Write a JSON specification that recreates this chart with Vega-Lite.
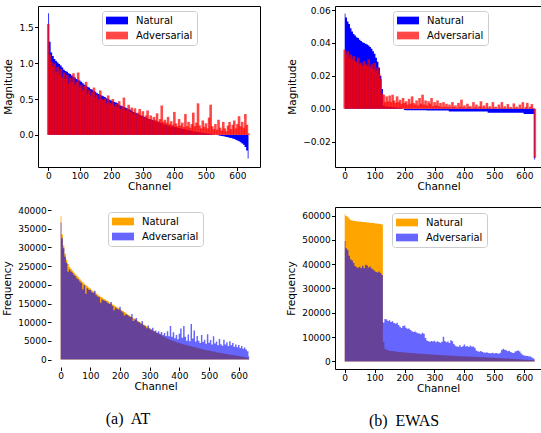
{
"$schema": "https://vega.github.io/schema/vega-lite/v6.json",
"background": "white",
"padding": {"left": 2, "top": 5, "right": 0, "bottom": 0},
"config": {
 "view": {"stroke": "#000", "strokeWidth": 1},
 "axis": {"labelFont": "DejaVu Sans", "labelFontSize": 9, "labelColor": "#000", "titleFont": "DejaVu Sans", "titleFontSize": 10.5, "titleFontWeight": "normal", "titleColor": "#000", "tickColor": "#000", "tickSize": 3.5, "grid": false, "domain": false, "labelOverlap": false, "labelFlush": false},
 "axisX": {"labelPadding": 0.5, "titlePadding": 1},
 "axisY": {"labelPadding": 1.2, "titlePadding": 5},
 "legend": {"labelFont": "DejaVu Sans", "labelFontSize": 10, "labelColor": "#000", "symbolStrokeWidth": 0, "labelOffset": 19, "padding": 4, "rowPadding": 4, "strokeColor": "#cccccc", "fillColor": "rgba(255,255,255,0.8)", "cornerRadius": 3, "title": null, "orient": "none", "symbolType": "M-1,-0.7H3V0.7H-1Z", "symbolSize": 121}
},
"datasets": {
"p1": [
{"c":0,"Natural":1.7,"Adversarial":1.55},{"c":5,"Natural":1.3,"Adversarial":1.12},{"c":10,"Natural":1.15,"Adversarial":1.02},{"c":15,"Natural":1.1,"Adversarial":0.96},{"c":20,"Natural":1.06,"Adversarial":1.0},{"c":25,"Natural":1.03,"Adversarial":0.88},{"c":30,"Natural":1.01,"Adversarial":0.95},{"c":35,"Natural":0.99,"Adversarial":0.84},{"c":40,"Natural":0.97,"Adversarial":0.92},{"c":45,"Natural":0.94,"Adversarial":0.8},
{"c":50,"Natural":0.91,"Adversarial":0.87},{"c":55,"Natural":0.89,"Adversarial":0.78},{"c":60,"Natural":0.88,"Adversarial":0.84},{"c":65,"Natural":0.86,"Adversarial":0.72},{"c":70,"Natural":0.85,"Adversarial":0.8},{"c":75,"Natural":0.83,"Adversarial":0.74},{"c":80,"Natural":0.81,"Adversarial":0.86},{"c":85,"Natural":0.8,"Adversarial":0.7},{"c":90,"Natural":0.78,"Adversarial":0.74},{"c":95,"Natural":0.77,"Adversarial":0.87},
{"c":100,"Natural":0.76,"Adversarial":0.66},{"c":105,"Natural":0.74,"Adversarial":0.7},{"c":110,"Natural":0.72,"Adversarial":0.62},{"c":115,"Natural":0.7,"Adversarial":0.68},{"c":120,"Natural":0.69,"Adversarial":0.74},{"c":125,"Natural":0.67,"Adversarial":0.58},{"c":130,"Natural":0.66,"Adversarial":0.63},{"c":135,"Natural":0.64,"Adversarial":0.55},{"c":140,"Natural":0.63,"Adversarial":0.6},{"c":145,"Natural":0.61,"Adversarial":0.66},
{"c":150,"Natural":0.6,"Adversarial":0.52},{"c":155,"Natural":0.58,"Adversarial":0.56},{"c":160,"Natural":0.57,"Adversarial":0.49},{"c":165,"Natural":0.56,"Adversarial":0.62},{"c":170,"Natural":0.55,"Adversarial":0.5},{"c":175,"Natural":0.54,"Adversarial":0.48},{"c":180,"Natural":0.53,"Adversarial":0.51},{"c":185,"Natural":0.51,"Adversarial":0.44},{"c":190,"Natural":0.5,"Adversarial":0.55},{"c":195,"Natural":0.49,"Adversarial":0.45},
{"c":200,"Natural":0.48,"Adversarial":0.42},{"c":205,"Natural":0.47,"Adversarial":0.5},{"c":210,"Natural":0.46,"Adversarial":0.4},{"c":215,"Natural":0.45,"Adversarial":0.43},{"c":220,"Natural":0.44,"Adversarial":0.38},{"c":225,"Natural":0.42,"Adversarial":0.47},{"c":230,"Natural":0.41,"Adversarial":0.36},{"c":235,"Natural":0.4,"Adversarial":0.39},{"c":240,"Natural":0.39,"Adversarial":0.52},{"c":245,"Natural":0.38,"Adversarial":0.34},
{"c":250,"Natural":0.37,"Adversarial":0.36},{"c":255,"Natural":0.36,"Adversarial":0.42},{"c":260,"Natural":0.35,"Adversarial":0.32},{"c":265,"Natural":0.34,"Adversarial":0.38},{"c":270,"Natural":0.32,"Adversarial":0.3},{"c":275,"Natural":0.31,"Adversarial":0.37},{"c":280,"Natural":0.3,"Adversarial":0.28},{"c":285,"Natural":0.29,"Adversarial":0.31},{"c":290,"Natural":0.28,"Adversarial":0.36},{"c":295,"Natural":0.27,"Adversarial":0.25},
{"c":300,"Natural":0.26,"Adversarial":0.33},{"c":305,"Natural":0.25,"Adversarial":0.24},{"c":310,"Natural":0.24,"Adversarial":0.27},{"c":315,"Natural":0.23,"Adversarial":0.34},{"c":320,"Natural":0.22,"Adversarial":0.22},{"c":325,"Natural":0.215,"Adversarial":0.27},{"c":330,"Natural":0.21,"Adversarial":0.2},{"c":335,"Natural":0.2,"Adversarial":0.25},{"c":340,"Natural":0.19,"Adversarial":0.21},{"c":345,"Natural":0.18,"Adversarial":0.3},
{"c":350,"Natural":0.175,"Adversarial":0.19},{"c":355,"Natural":0.17,"Adversarial":0.22},{"c":360,"Natural":0.16,"Adversarial":0.41},{"c":365,"Natural":0.15,"Adversarial":0.18},{"c":370,"Natural":0.145,"Adversarial":0.21},{"c":375,"Natural":0.14,"Adversarial":0.17},{"c":380,"Natural":0.13,"Adversarial":0.25},{"c":385,"Natural":0.125,"Adversarial":0.15},{"c":390,"Natural":0.12,"Adversarial":0.19},{"c":395,"Natural":0.115,"Adversarial":0.14},
{"c":400,"Natural":0.11,"Adversarial":0.32},{"c":405,"Natural":0.105,"Adversarial":0.16},{"c":410,"Natural":0.1,"Adversarial":0.12},{"c":415,"Natural":0.095,"Adversarial":0.22},{"c":420,"Natural":0.09,"Adversarial":0.13},{"c":425,"Natural":0.085,"Adversarial":0.17},{"c":430,"Natural":0.08,"Adversarial":0.11},{"c":435,"Natural":0.075,"Adversarial":0.29},{"c":440,"Natural":0.07,"Adversarial":0.12},{"c":445,"Natural":0.065,"Adversarial":0.18},
{"c":450,"Natural":0.06,"Adversarial":0.1},{"c":455,"Natural":0.055,"Adversarial":0.15},{"c":460,"Natural":0.05,"Adversarial":0.31},{"c":465,"Natural":0.047,"Adversarial":0.12},{"c":470,"Natural":0.043,"Adversarial":0.17},{"c":475,"Natural":0.04,"Adversarial":0.44},{"c":480,"Natural":0.035,"Adversarial":0.13},{"c":485,"Natural":0.032,"Adversarial":0.09},{"c":490,"Natural":0.028,"Adversarial":0.2},{"c":495,"Natural":0.025,"Adversarial":0.11},
{"c":500,"Natural":0.02,"Adversarial":0.16},{"c":505,"Natural":0.017,"Adversarial":0.09},{"c":510,"Natural":0.014,"Adversarial":0.24},{"c":515,"Natural":0.01,"Adversarial":0.42},{"c":520,"Natural":0.007,"Adversarial":0.12},{"c":525,"Natural":0.004,"Adversarial":0.08},{"c":530,"Natural":0.0,"Adversarial":0.15},{"c":535,"Natural":-0.004,"Adversarial":0.07},{"c":540,"Natural":-0.008,"Adversarial":0.21},{"c":545,"Natural":-0.012,"Adversarial":0.1},
{"c":550,"Natural":-0.016,"Adversarial":0.06},{"c":555,"Natural":-0.02,"Adversarial":0.18},{"c":560,"Natural":-0.025,"Adversarial":0.09},{"c":565,"Natural":-0.03,"Adversarial":0.05},{"c":570,"Natural":-0.035,"Adversarial":0.13},{"c":575,"Natural":-0.04,"Adversarial":0.18},{"c":580,"Natural":-0.046,"Adversarial":0.08},{"c":585,"Natural":-0.053,"Adversarial":0.14},{"c":590,"Natural":-0.06,"Adversarial":0.2},{"c":595,"Natural":-0.07,"Adversarial":0.09},
{"c":600,"Natural":-0.08,"Adversarial":0.15},{"c":605,"Natural":-0.09,"Adversarial":0.26},{"c":610,"Natural":-0.105,"Adversarial":0.12},{"c":615,"Natural":-0.12,"Adversarial":0.18},{"c":620,"Natural":-0.14,"Adversarial":0.1},{"c":625,"Natural":-0.17,"Adversarial":0.29},{"c":630,"Natural":-0.22,"Adversarial":0.14},{"c":635,"Natural":-0.33,"Adversarial":0.02}
],
"p2": [
{"c":0,"Natural":0.058,"Adversarial":0.036},{"c":5,"Natural":0.0555,"Adversarial":0.033},{"c":10,"Natural":0.053,"Adversarial":0.035},{"c":15,"Natural":0.0515,"Adversarial":0.031},{"c":20,"Natural":0.049,"Adversarial":0.033},{"c":25,"Natural":0.047,"Adversarial":0.03},{"c":30,"Natural":0.0455,"Adversarial":0.032},{"c":35,"Natural":0.0445,"Adversarial":0.029},{"c":40,"Natural":0.0435,"Adversarial":0.028},{"c":45,"Natural":0.043,"Adversarial":0.031},
{"c":50,"Natural":0.042,"Adversarial":0.027},{"c":55,"Natural":0.0412,"Adversarial":0.028},{"c":60,"Natural":0.0405,"Adversarial":0.026},{"c":65,"Natural":0.04,"Adversarial":0.029},{"c":70,"Natural":0.0395,"Adversarial":0.027},{"c":75,"Natural":0.039,"Adversarial":0.026},{"c":80,"Natural":0.0385,"Adversarial":0.03},{"c":85,"Natural":0.0375,"Adversarial":0.025},{"c":90,"Natural":0.0365,"Adversarial":0.027},{"c":95,"Natural":0.035,"Adversarial":0.024},
{"c":100,"Natural":0.0335,"Adversarial":0.028},{"c":105,"Natural":0.031,"Adversarial":0.023},{"c":110,"Natural":0.0285,"Adversarial":0.025},{"c":115,"Natural":0.025,"Adversarial":0.021},{"c":120,"Natural":0.02,"Adversarial":0.018},{"c":125,"Natural":0.012,"Adversarial":0.009},{"c":130,"Natural":0.0018,"Adversarial":0.0085},{"c":135,"Natural":0.0015,"Adversarial":0.004},{"c":140,"Natural":0.0013,"Adversarial":0.0075},{"c":145,"Natural":0.0012,"Adversarial":0.0045},
{"c":150,"Natural":0.0011,"Adversarial":0.008},{"c":155,"Natural":0.001,"Adversarial":0.004},{"c":160,"Natural":0.0009,"Adversarial":0.0085},{"c":165,"Natural":0.0008,"Adversarial":0.005},{"c":170,"Natural":0.0007,"Adversarial":0.0035},{"c":175,"Natural":0.0006,"Adversarial":0.0075},{"c":180,"Natural":0.0005,"Adversarial":0.004},{"c":185,"Natural":0.0004,"Adversarial":0.0055},{"c":190,"Natural":0.0002,"Adversarial":0.003},{"c":195,"Natural":0.0,"Adversarial":0.0065},
{"c":200,"Natural":-0.0008,"Adversarial":0.0035},{"c":205,"Natural":-0.0009,"Adversarial":0.0045},{"c":210,"Natural":-0.0009,"Adversarial":0.0025},{"c":215,"Natural":-0.0009,"Adversarial":0.006},{"c":220,"Natural":-0.0009,"Adversarial":0.003},{"c":225,"Natural":-0.0009,"Adversarial":0.0075},{"c":230,"Natural":-0.0009,"Adversarial":0.0035},{"c":235,"Natural":-0.0009,"Adversarial":0.0025},{"c":240,"Natural":-0.0009,"Adversarial":0.005},{"c":245,"Natural":-0.0009,"Adversarial":0.002},
{"c":250,"Natural":-0.0009,"Adversarial":0.0065},{"c":255,"Natural":-0.0009,"Adversarial":0.003},{"c":260,"Natural":-0.0009,"Adversarial":0.0085},{"c":265,"Natural":-0.0009,"Adversarial":0.0025},{"c":270,"Natural":-0.0009,"Adversarial":0.005},{"c":275,"Natural":-0.0011,"Adversarial":0.002},{"c":280,"Natural":-0.0011,"Adversarial":0.0045},{"c":285,"Natural":-0.0011,"Adversarial":0.003},{"c":290,"Natural":-0.0011,"Adversarial":0.0065},{"c":295,"Natural":-0.0011,"Adversarial":0.0015},
{"c":300,"Natural":-0.0011,"Adversarial":0.004},{"c":305,"Natural":-0.0011,"Adversarial":0.002},{"c":310,"Natural":-0.0011,"Adversarial":0.005},{"c":315,"Natural":-0.0011,"Adversarial":0.0015},{"c":320,"Natural":-0.0011,"Adversarial":0.0035},{"c":325,"Natural":-0.0011,"Adversarial":0.001},{"c":330,"Natural":-0.0011,"Adversarial":0.004},{"c":335,"Natural":-0.0011,"Adversarial":0.0012},{"c":340,"Natural":-0.0011,"Adversarial":0.003},{"c":345,"Natural":-0.0011,"Adversarial":0.001},
{"c":350,"Natural":-0.0017,"Adversarial":0.0025},{"c":355,"Natural":-0.0017,"Adversarial":0.0008},{"c":360,"Natural":-0.0017,"Adversarial":0.004},{"c":365,"Natural":-0.0017,"Adversarial":0.001},{"c":370,"Natural":-0.0017,"Adversarial":0.002},{"c":375,"Natural":-0.0017,"Adversarial":0.0005},{"c":380,"Natural":-0.0017,"Adversarial":0.0035},{"c":385,"Natural":-0.0017,"Adversarial":0.001},{"c":390,"Natural":-0.0017,"Adversarial":0.0055},{"c":395,"Natural":-0.0017,"Adversarial":0.0008},
{"c":400,"Natural":-0.0017,"Adversarial":0.002},{"c":405,"Natural":-0.0017,"Adversarial":0.0005},{"c":410,"Natural":-0.0017,"Adversarial":0.003},{"c":415,"Natural":-0.0017,"Adversarial":0.001},{"c":420,"Natural":-0.0017,"Adversarial":0.0015},{"c":425,"Natural":-0.0017,"Adversarial":0.0004},{"c":430,"Natural":-0.0017,"Adversarial":0.004},{"c":435,"Natural":-0.0017,"Adversarial":0.0008},{"c":440,"Natural":-0.0017,"Adversarial":0.0025},{"c":445,"Natural":-0.0017,"Adversarial":0.0005},
{"c":450,"Natural":-0.0017,"Adversarial":0.0015},{"c":455,"Natural":-0.0017,"Adversarial":0.0045},{"c":460,"Natural":-0.0017,"Adversarial":0.0008},{"c":465,"Natural":-0.0017,"Adversarial":0.002},{"c":470,"Natural":-0.0017,"Adversarial":0.0005},{"c":475,"Natural":-0.0017,"Adversarial":0.0035},{"c":480,"Natural":-0.0025,"Adversarial":0.0006},{"c":485,"Natural":-0.0025,"Adversarial":0.0015},{"c":490,"Natural":-0.0025,"Adversarial":0.0003},{"c":495,"Natural":-0.0025,"Adversarial":0.004},
{"c":500,"Natural":-0.0025,"Adversarial":0.0007},{"c":505,"Natural":-0.0025,"Adversarial":0.0012},{"c":510,"Natural":-0.0025,"Adversarial":0.0002},{"c":515,"Natural":-0.0025,"Adversarial":0.0025},{"c":520,"Natural":-0.0025,"Adversarial":0.0006},{"c":525,"Natural":-0.0025,"Adversarial":0.004},{"c":530,"Natural":-0.0025,"Adversarial":0.0004},{"c":535,"Natural":-0.0025,"Adversarial":0.0015},{"c":540,"Natural":-0.0025,"Adversarial":0.0003},{"c":545,"Natural":-0.0025,"Adversarial":0.0028},
{"c":550,"Natural":-0.0025,"Adversarial":0.0005},{"c":555,"Natural":-0.0025,"Adversarial":0.001},{"c":560,"Natural":-0.0025,"Adversarial":0.0002},{"c":565,"Natural":-0.0025,"Adversarial":0.0032},{"c":570,"Natural":-0.0025,"Adversarial":0.0005},{"c":575,"Natural":-0.0025,"Adversarial":0.0012},{"c":580,"Natural":-0.0025,"Adversarial":0.0003},{"c":585,"Natural":-0.0025,"Adversarial":0.0025},{"c":590,"Natural":-0.0025,"Adversarial":0.0004},{"c":595,"Natural":-0.0025,"Adversarial":0.004},
{"c":600,"Natural":-0.0033,"Adversarial":0.0002},{"c":605,"Natural":-0.0033,"Adversarial":0.001},{"c":610,"Natural":-0.0033,"Adversarial":0.0035},{"c":615,"Natural":-0.0033,"Adversarial":0.0003},{"c":620,"Natural":-0.0033,"Adversarial":0.0012},{"c":625,"Natural":-0.0033,"Adversarial":0.0028},{"c":630,"Natural":-0.0033,"Adversarial":0.0004},{"c":635,"Natural":-0.031,"Adversarial":-0.03}
],
"p3": [
{"c":0,"Natural":38500,"Adversarial":36700},{"c":5,"Natural":33500,"Adversarial":32500},{"c":10,"Natural":30500,"Adversarial":29800},{"c":15,"Natural":28300,"Adversarial":27500},{"c":20,"Natural":26700,"Adversarial":25900},{"c":25,"Natural":25600,"Adversarial":23500},{"c":30,"Natural":24800,"Adversarial":24100},{"c":35,"Natural":24300,"Adversarial":23600},{"c":40,"Natural":23800,"Adversarial":23200},{"c":45,"Natural":23300,"Adversarial":22600},
{"c":50,"Natural":22800,"Adversarial":22300},{"c":55,"Natural":22400,"Adversarial":21700},{"c":60,"Natural":22000,"Adversarial":21400},{"c":65,"Natural":21500,"Adversarial":20900},{"c":70,"Natural":21100,"Adversarial":20500},{"c":75,"Natural":20700,"Adversarial":18800},{"c":80,"Natural":20300,"Adversarial":19900},{"c":85,"Natural":19900,"Adversarial":17600},{"c":90,"Natural":19600,"Adversarial":19100},{"c":95,"Natural":19300,"Adversarial":18700},
{"c":100,"Natural":19000,"Adversarial":18600},{"c":105,"Natural":18600,"Adversarial":18100},{"c":110,"Natural":18300,"Adversarial":17800},{"c":115,"Natural":18000,"Adversarial":18400},{"c":120,"Natural":17700,"Adversarial":17200},{"c":125,"Natural":17400,"Adversarial":16900},{"c":130,"Natural":17100,"Adversarial":16700},{"c":135,"Natural":16800,"Adversarial":15200},{"c":140,"Natural":16600,"Adversarial":16100},{"c":145,"Natural":16300,"Adversarial":15900},
{"c":150,"Natural":16100,"Adversarial":15700},{"c":155,"Natural":15800,"Adversarial":15500},{"c":160,"Natural":15600,"Adversarial":15100},{"c":165,"Natural":15300,"Adversarial":14900},{"c":170,"Natural":15000,"Adversarial":15400},{"c":175,"Natural":14700,"Adversarial":14300},{"c":180,"Natural":14500,"Adversarial":13200},{"c":185,"Natural":14200,"Adversarial":13900},{"c":190,"Natural":14000,"Adversarial":13600},{"c":195,"Natural":13700,"Adversarial":13400},
{"c":200,"Natural":13500,"Adversarial":14100},{"c":205,"Natural":13200,"Adversarial":12900},{"c":210,"Natural":13000,"Adversarial":12600},{"c":215,"Natural":12700,"Adversarial":11800},{"c":220,"Natural":12400,"Adversarial":12100},{"c":225,"Natural":12100,"Adversarial":11900},{"c":230,"Natural":11900,"Adversarial":11600},{"c":235,"Natural":11600,"Adversarial":11400},{"c":240,"Natural":11400,"Adversarial":12200},{"c":245,"Natural":11100,"Adversarial":10300},
{"c":250,"Natural":10900,"Adversarial":10700},{"c":255,"Natural":10600,"Adversarial":11100},{"c":260,"Natural":10400,"Adversarial":10100},{"c":265,"Natural":10100,"Adversarial":10000},{"c":270,"Natural":9900,"Adversarial":9600},{"c":275,"Natural":9600,"Adversarial":10300},{"c":280,"Natural":9400,"Adversarial":9200},{"c":285,"Natural":9100,"Adversarial":8900},{"c":290,"Natural":8900,"Adversarial":8400},{"c":295,"Natural":8600,"Adversarial":9100},
{"c":300,"Natural":8400,"Adversarial":8300},{"c":305,"Natural":8100,"Adversarial":8000},{"c":310,"Natural":7900,"Adversarial":8500},{"c":315,"Natural":7600,"Adversarial":7600},{"c":320,"Natural":7400,"Adversarial":7800},{"c":325,"Natural":7100,"Adversarial":7200},{"c":330,"Natural":6900,"Adversarial":7600},{"c":335,"Natural":6700,"Adversarial":6900},{"c":340,"Natural":6450,"Adversarial":7400},{"c":345,"Natural":6200,"Adversarial":6600},
{"c":350,"Natural":6000,"Adversarial":7100},{"c":355,"Natural":5800,"Adversarial":6300},{"c":360,"Natural":5600,"Adversarial":7600},{"c":365,"Natural":5400,"Adversarial":6200},{"c":370,"Natural":5250,"Adversarial":9000},{"c":375,"Natural":5100,"Adversarial":6100},{"c":380,"Natural":4950,"Adversarial":7300},{"c":385,"Natural":4800,"Adversarial":5700},{"c":390,"Natural":4650,"Adversarial":6600},{"c":395,"Natural":4500,"Adversarial":5400},
{"c":400,"Natural":4400,"Adversarial":6900},{"c":405,"Natural":4300,"Adversarial":8300},{"c":410,"Natural":4150,"Adversarial":5800},{"c":415,"Natural":4050,"Adversarial":9000},{"c":420,"Natural":3950,"Adversarial":6100},{"c":425,"Natural":3850,"Adversarial":5000},{"c":430,"Natural":3750,"Adversarial":6700},{"c":435,"Natural":3650,"Adversarial":4900},{"c":440,"Natural":3550,"Adversarial":9500},{"c":445,"Natural":3450,"Adversarial":5600},
{"c":450,"Natural":3350,"Adversarial":7800},{"c":455,"Natural":3250,"Adversarial":4800},{"c":460,"Natural":3150,"Adversarial":6300},{"c":465,"Natural":3050,"Adversarial":5000},{"c":470,"Natural":2950,"Adversarial":4400},{"c":475,"Natural":2850,"Adversarial":6600},{"c":480,"Natural":2750,"Adversarial":4700},{"c":485,"Natural":2650,"Adversarial":5300},{"c":490,"Natural":2550,"Adversarial":4200},{"c":495,"Natural":2450,"Adversarial":6800},
{"c":500,"Natural":2400,"Adversarial":4500},{"c":505,"Natural":2300,"Adversarial":5200},{"c":510,"Natural":2200,"Adversarial":4000},{"c":515,"Natural":2120,"Adversarial":6200},{"c":520,"Natural":2050,"Adversarial":4300},{"c":525,"Natural":1970,"Adversarial":4800},{"c":530,"Natural":1900,"Adversarial":3800},{"c":535,"Natural":1820,"Adversarial":5500},{"c":540,"Natural":1750,"Adversarial":4100},{"c":545,"Natural":1680,"Adversarial":3700},
{"c":550,"Natural":1600,"Adversarial":5300},{"c":555,"Natural":1520,"Adversarial":4000},{"c":560,"Natural":1450,"Adversarial":4600},{"c":565,"Natural":1380,"Adversarial":3600},{"c":570,"Natural":1320,"Adversarial":4900},{"c":575,"Natural":1260,"Adversarial":3800},{"c":580,"Natural":1200,"Adversarial":4400},{"c":585,"Natural":1130,"Adversarial":3400},{"c":590,"Natural":1070,"Adversarial":4000},{"c":595,"Natural":1010,"Adversarial":3300},
{"c":600,"Natural":950,"Adversarial":3900},{"c":605,"Natural":890,"Adversarial":3100},{"c":610,"Natural":820,"Adversarial":3600},{"c":615,"Natural":760,"Adversarial":2900},{"c":620,"Natural":700,"Adversarial":3200},{"c":625,"Natural":640,"Adversarial":2700},{"c":630,"Natural":500,"Adversarial":2200},{"c":635,"Natural":200,"Adversarial":900}
],
"p4": [
{"c":0,"Natural":60500,"Adversarial":49500},{"c":5,"Natural":59800,"Adversarial":46500},{"c":10,"Natural":59500,"Adversarial":45800},{"c":15,"Natural":58800,"Adversarial":43500},{"c":20,"Natural":58200,"Adversarial":42000},{"c":25,"Natural":57900,"Adversarial":41500},{"c":30,"Natural":57800,"Adversarial":40500},{"c":35,"Natural":57700,"Adversarial":39200},{"c":40,"Natural":57600,"Adversarial":38700},{"c":45,"Natural":57500,"Adversarial":38500},
{"c":50,"Natural":57500,"Adversarial":38900},{"c":55,"Natural":57400,"Adversarial":38300},{"c":60,"Natural":57300,"Adversarial":39300},{"c":65,"Natural":57300,"Adversarial":38400},{"c":70,"Natural":57200,"Adversarial":39800},{"c":75,"Natural":57100,"Adversarial":39400},{"c":80,"Natural":57100,"Adversarial":38600},{"c":85,"Natural":57000,"Adversarial":39000},{"c":90,"Natural":56900,"Adversarial":38200},{"c":95,"Natural":56900,"Adversarial":37800},
{"c":100,"Natural":56800,"Adversarial":37300},{"c":105,"Natural":56700,"Adversarial":36800},{"c":110,"Natural":56600,"Adversarial":36600},{"c":115,"Natural":56600,"Adversarial":37000},{"c":120,"Natural":56500,"Adversarial":36400},{"c":125,"Natural":56300,"Adversarial":35500},{"c":130,"Natural":8000,"Adversarial":16000},{"c":135,"Natural":5200,"Adversarial":17500},{"c":140,"Natural":4800,"Adversarial":17200},{"c":145,"Natural":4600,"Adversarial":16600},
{"c":150,"Natural":4450,"Adversarial":16900},{"c":155,"Natural":4350,"Adversarial":16200},{"c":160,"Natural":4250,"Adversarial":16500},{"c":165,"Natural":4150,"Adversarial":15800},{"c":170,"Natural":4050,"Adversarial":15500},{"c":175,"Natural":3980,"Adversarial":15900},{"c":180,"Natural":3920,"Adversarial":15000},{"c":185,"Natural":3860,"Adversarial":14300},{"c":190,"Natural":3800,"Adversarial":13800},{"c":195,"Natural":3750,"Adversarial":14600},
{"c":200,"Natural":3700,"Adversarial":14800},{"c":205,"Natural":3650,"Adversarial":13900},{"c":210,"Natural":3600,"Adversarial":13400},{"c":215,"Natural":3550,"Adversarial":13600},{"c":220,"Natural":3500,"Adversarial":12900},{"c":225,"Natural":3450,"Adversarial":12400},{"c":230,"Natural":3400,"Adversarial":12100},{"c":235,"Natural":3350,"Adversarial":12300},{"c":240,"Natural":3300,"Adversarial":11900},{"c":245,"Natural":3250,"Adversarial":11600},
{"c":250,"Natural":3200,"Adversarial":11500},{"c":255,"Natural":3160,"Adversarial":11200},{"c":260,"Natural":3120,"Adversarial":11800},{"c":265,"Natural":3080,"Adversarial":11400},{"c":270,"Natural":3040,"Adversarial":9600},{"c":275,"Natural":3000,"Adversarial":8600},{"c":280,"Natural":2960,"Adversarial":8300},{"c":285,"Natural":2920,"Adversarial":8100},{"c":290,"Natural":2880,"Adversarial":8400},{"c":295,"Natural":2840,"Adversarial":8200},
{"c":300,"Natural":2800,"Adversarial":8500},{"c":305,"Natural":2760,"Adversarial":7900},{"c":310,"Natural":2720,"Adversarial":8300},{"c":315,"Natural":2680,"Adversarial":8000},{"c":320,"Natural":2640,"Adversarial":7700},{"c":325,"Natural":2600,"Adversarial":8100},{"c":330,"Natural":2560,"Adversarial":10200},{"c":335,"Natural":2520,"Adversarial":8400},{"c":340,"Natural":2480,"Adversarial":7900},{"c":345,"Natural":2440,"Adversarial":8200},
{"c":350,"Natural":2400,"Adversarial":7600},{"c":355,"Natural":2370,"Adversarial":8700},{"c":360,"Natural":2340,"Adversarial":8300},{"c":365,"Natural":2310,"Adversarial":7200},{"c":370,"Natural":2280,"Adversarial":6500},{"c":375,"Natural":2250,"Adversarial":6200},{"c":380,"Natural":2220,"Adversarial":6000},{"c":385,"Natural":2190,"Adversarial":6700},{"c":390,"Natural":2160,"Adversarial":5900},{"c":395,"Natural":2130,"Adversarial":6300},
{"c":400,"Natural":2100,"Adversarial":7000},{"c":405,"Natural":2070,"Adversarial":6200},{"c":410,"Natural":2040,"Adversarial":6400},{"c":415,"Natural":2010,"Adversarial":5900},{"c":420,"Natural":1980,"Adversarial":6600},{"c":425,"Natural":1950,"Adversarial":6000},{"c":430,"Natural":1920,"Adversarial":6200},{"c":435,"Natural":1890,"Adversarial":5600},{"c":440,"Natural":1860,"Adversarial":4500},{"c":445,"Natural":1830,"Adversarial":4200},
{"c":450,"Natural":1800,"Adversarial":4000},{"c":455,"Natural":1770,"Adversarial":4300},{"c":460,"Natural":1740,"Adversarial":3900},{"c":465,"Natural":1710,"Adversarial":3700},{"c":470,"Natural":1680,"Adversarial":3600},{"c":475,"Natural":1650,"Adversarial":3800},{"c":480,"Natural":1620,"Adversarial":3500},{"c":485,"Natural":1590,"Adversarial":3400},{"c":490,"Natural":1560,"Adversarial":3400},{"c":495,"Natural":1530,"Adversarial":3600},
{"c":500,"Natural":1500,"Adversarial":3300},{"c":505,"Natural":1465,"Adversarial":3500},{"c":510,"Natural":1430,"Adversarial":3400},{"c":515,"Natural":1395,"Adversarial":3200},{"c":520,"Natural":1360,"Adversarial":3600},{"c":525,"Natural":1325,"Adversarial":4700},{"c":530,"Natural":1290,"Adversarial":5200},{"c":535,"Natural":1255,"Adversarial":4800},{"c":540,"Natural":1220,"Adversarial":4600},{"c":545,"Natural":1185,"Adversarial":4200},
{"c":550,"Natural":1150,"Adversarial":4400},{"c":555,"Natural":1110,"Adversarial":3900},{"c":560,"Natural":1070,"Adversarial":3600},{"c":565,"Natural":1030,"Adversarial":3500},{"c":570,"Natural":990,"Adversarial":4100},{"c":575,"Natural":950,"Adversarial":4300},{"c":580,"Natural":910,"Adversarial":4500},{"c":585,"Natural":870,"Adversarial":4100},{"c":590,"Natural":830,"Adversarial":3300},{"c":595,"Natural":790,"Adversarial":2800},
{"c":600,"Natural":750,"Adversarial":2500},{"c":605,"Natural":710,"Adversarial":2300},{"c":610,"Natural":670,"Adversarial":2200},{"c":615,"Natural":630,"Adversarial":2100},{"c":620,"Natural":590,"Adversarial":2000},{"c":625,"Natural":550,"Adversarial":1700},{"c":630,"Natural":480,"Adversarial":1300},{"c":635,"Natural":300,"Adversarial":900}
]
},
"spacing": 25,
"resolve": {"scale": {"x": "independent", "y": "independent", "color": "independent"}, "legend": {"color": "independent"}},
"hconcat": [
 {
  "spacing": 14,
  "resolve": {"scale": {"x": "independent", "y": "independent", "color": "independent"}, "legend": {"color": "independent"}},
  "vconcat": [
   {
    "width": 222, "height": 161,
    "data": {"name": "p1"},
    "transform": [{"fold": ["Natural", "Adversarial"], "as": ["s", "v"]}],
    "encoding": {
     "x": {"field": "c", "type": "quantitative", "title": "Channel", "scale": {"domain": [-32.5, 671.5], "nice": false, "zero": false, "padding": 0}, "axis": {"values": [0,100,200,300,400,500,600]}},
     "y": {"field": "v", "type": "quantitative", "stack": null, "title": "Magnitude", "scale": {"domain": [-0.45, 1.8], "nice": false, "zero": false}, "axis": {"values": [0, 0.5, 1, 1.5], "format": ".1f"}},
     "y2": {"datum": 0},
     "color": {"field": "s", "type": "nominal", "scale": {"domain": ["Natural", "Adversarial"], "range": ["#0000ff", "rgba(255,0,0,0.72)"]}, "legend": {"legendX": 64, "legendY": 5}}
    },
    "layer": [
     {"transform": [{"filter": "datum.s === 'Natural'"}], "mark": {"type": "area", "interpolate": "step"}},
     {"transform": [{"filter": "datum.s === 'Adversarial'"}], "mark": {"type": "bar", "orient": "vertical", "width": 2.6}}
    ]
   },
   {
    "width": 222, "height": 158,
    "view": {"stroke": null},
    "title": {"text": "(a)\u00a0 AT", "orient": "bottom", "font": "Liberation Serif", "fontSize": 16, "fontWeight": "normal", "color": "#000", "frame": "group", "anchor": "middle", "dx": -21, "offset": 19},
    "encoding": {
     "x": {"field": "c", "type": "quantitative", "title": "Channel", "scale": {"domain": [-32.5, 671.5], "range": [13, 222], "nice": false, "zero": false, "padding": 0}, "axis": {"values": [0,100,200,300,400,500,600]}},
     "y": {"field": "v", "type": "quantitative", "stack": null, "title": "Frequency", "scale": {"domain": [-2000, 40300], "nice": false, "zero": false}, "axis": {"values": [0,5000,10000,15000,20000,25000,30000,35000,40000], "format": "d", "offset": -13}},
     "y2": {"datum": 0}
    },
    "layer": [
     {"data": {"name": "p3"}, "transform": [{"fold": ["Natural", "Adversarial"], "as": ["s", "v"]}, {"filter": "datum.s === 'Natural'"}], "mark": {"type": "area", "interpolate": "step"},
      "encoding": {"color": {"field": "s", "type": "nominal", "scale": {"domain": ["Natural", "Adversarial"], "range": ["#ffa500", "rgba(0,0,255,0.6)"]}, "legend": {"legendX": 70, "legendY": 3}}}},
     {"data": {"name": "p3"}, "transform": [{"fold": ["Natural", "Adversarial"], "as": ["s", "v"]}, {"filter": "datum.s === 'Adversarial'"}], "mark": {"type": "area", "interpolate": "step"},
      "encoding": {"color": {"field": "s", "type": "nominal", "scale": {"domain": ["Natural", "Adversarial"], "range": ["#ffa500", "rgba(0,0,255,0.6)"]}, "legend": {"legendX": 70, "legendY": 3}}}},
     {"data": {"values": [{}]}, "mark": {"type": "rect", "filled": false, "color": "#000", "strokeWidth": 1},
      "encoding": {
       "x": {"datum": -32.5, "type": "quantitative", "title": "Channel", "axis": {"values": [0,100,200,300,400,500,600]}},
       "x2": {"datum": 671.5},
       "y": {"datum": -2000, "type": "quantitative", "title": "Frequency", "axis": {"values": [0,5000,10000,15000,20000,25000,30000,35000,40000], "format": "d", "offset": -13}},
       "y2": {"datum": 40300}
      }}
    ]
   }
  ]
 },
 {
  "spacing": 14,
  "resolve": {"scale": {"x": "independent", "y": "independent", "color": "independent"}, "legend": {"color": "independent"}},
  "vconcat": [
   {
    "width": 207, "height": 161,
    "data": {"name": "p2"},
    "transform": [{"fold": ["Natural", "Adversarial"], "as": ["s", "v"]}],
    "encoding": {
     "x": {"field": "c", "type": "quantitative", "title": "Channel", "scale": {"domain": [-32.5, 659], "nice": false, "zero": false, "padding": 0}, "axis": {"values": [0,100,200,300,400,500,600]}},
     "y": {"field": "v", "type": "quantitative", "stack": null, "title": "Magnitude", "scale": {"domain": [-0.0355, 0.0625], "nice": false, "zero": false}, "axis": {"values": [-0.02, 0, 0.02, 0.04, 0.06], "format": ".2f"}},
     "y2": {"datum": 0},
     "color": {"field": "s", "type": "nominal", "scale": {"domain": ["Natural", "Adversarial"], "range": ["#0000ff", "rgba(255,0,0,0.72)"]}, "legend": {"legendX": 58, "legendY": 5}}
    },
    "layer": [
     {"transform": [{"filter": "datum.s === 'Natural'"}], "mark": {"type": "area", "interpolate": "step"}},
     {"transform": [{"filter": "datum.s === 'Adversarial'"}], "mark": {"type": "bar", "orient": "vertical", "width": 2.6}}
    ]
   },
   {
    "width": 206, "height": 162,
    "data": {"name": "p4"},
    "title": {"text": "(b)\u00a0 EWAS", "orient": "bottom", "font": "Liberation Serif", "fontSize": 16, "fontWeight": "normal", "color": "#000", "frame": "group", "anchor": "middle", "dx": -34, "offset": 19},
    "transform": [{"fold": ["Natural", "Adversarial"], "as": ["s", "v"]}],
    "encoding": {
     "x": {"field": "c", "type": "quantitative", "title": "Channel", "scale": {"domain": [-32.5, 656], "nice": false, "zero": false, "padding": 0}, "axis": {"values": [0,100,200,300,400,500,600]}},
     "y": {"field": "v", "type": "quantitative", "stack": null, "title": "Frequency", "scale": {"domain": [-3100, 63500], "nice": false, "zero": false}, "axis": {"values": [0,10000,20000,30000,40000,50000,60000], "format": "d"}},
     "y2": {"datum": 0},
     "color": {"field": "s", "type": "nominal", "scale": {"domain": ["Natural", "Adversarial"], "range": ["#ffa500", "rgba(0,0,255,0.6)"]}, "legend": {"legendX": 57, "legendY": 6}}
    },
    "layer": [
     {"transform": [{"filter": "datum.s === 'Natural'"}], "mark": {"type": "area", "interpolate": "step"}},
     {"transform": [{"filter": "datum.s === 'Adversarial'"}], "mark": {"type": "area", "interpolate": "step"}}
    ]
   }
  ]
 }
]
}
